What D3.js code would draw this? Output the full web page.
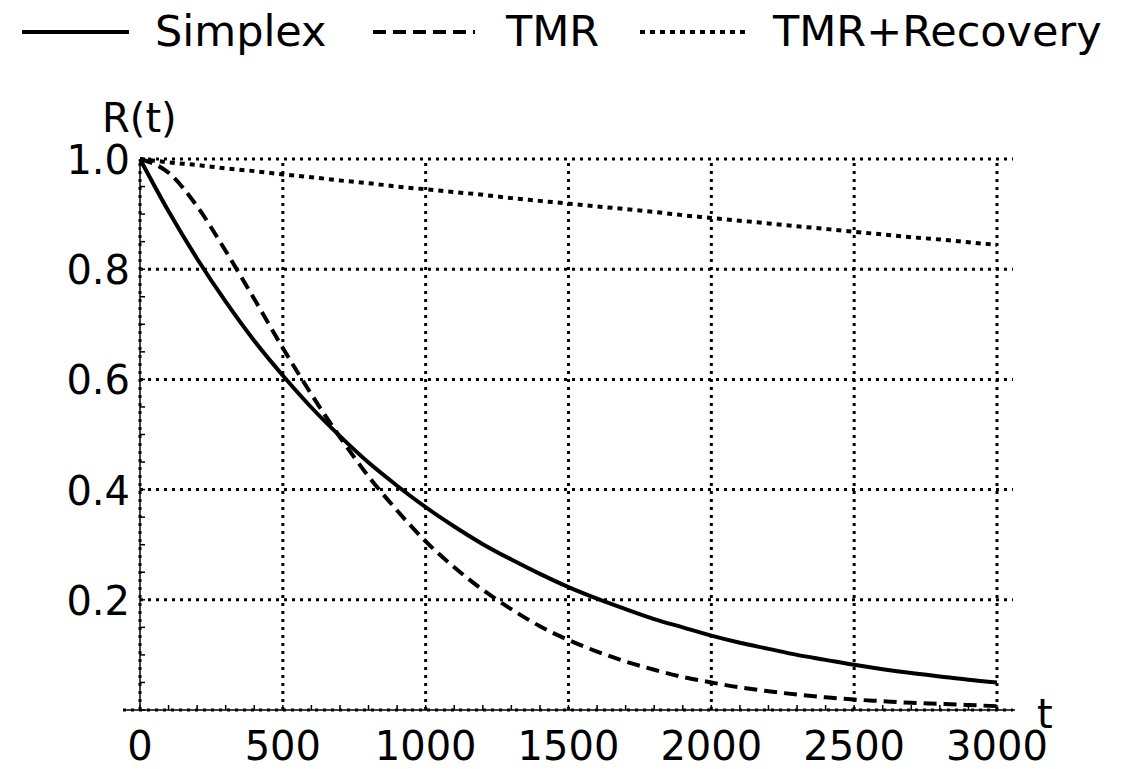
<!DOCTYPE html>
<html>
<head>
<meta charset="utf-8">
<script src="https://cdn.jsdelivr.net/npm/d3@7"></script>
<style>
  body { margin: 0; background: #fff; }
  text { font-family: "DejaVu Sans", Verdana, sans-serif; fill: #000; }
</style>
</head>
<body>
<div id="chart"></div>
<script>
const times = [0, 100, 200, 300, 400, 500, 600, 700, 800, 900, 1000, 1100, 1200, 1300, 1400, 1500,
    1600, 1700, 1800, 1900, 2000, 2100, 2200, 2300, 2400, 2500, 2600, 2700, 2800, 2900, 3000];
const simplex = [1.000, .905, .819, .741, .670, .607, .549, .497, .449, .407, .368, .333, .301, .273, .247, .223,
    .202, .183, .165, .150, .135, .122, .111, .100, .091, .082, .074, .067, .061, .055, .050];
const tmr = [1.000, .975, .914, .833, .746, .657, .573, .495, .424, .362, .306, .259, .218, .183, .152, .127,
    .106, .088, .073, .060, .050, .041, .034, .028, .023, .019, .016, .013, .011, .009, .007];
const recovery = [1.000, .994, .989, .983, .978, .972, .967, .961, .956, .950, .945, .940, .935, .929, .924, .919,
    .914, .909, .904, .898, .893, .888, .883, .878, .873, .868, .863, .858, .854, .849, .844];
const xTicks = [0, 500, 1000, 1500, 2000, 2500, 3000];
const yTicks = [0.2, 0.4, 0.6, 0.8, 1.0];
const seriesNames = ['Simplex', 'TMR', 'TMR+Recovery'];

const width = 1122, height = 769;
const x = d3.scaleLinear().domain([0, 3000]).range([140, 997]);
const y = d3.scaleLinear().domain([0, 1]).range([710, 159]);

const svg = d3.select("#chart").append("svg")
    .attr("width", width)
    .attr("height", height);

const dash = ['none', '13,7', '5,5'];
const gridDash = '3,5';

// axis base lines
svg.append("line").attr("x1", 123).attr("x2", 1015).attr("y1", y(0)).attr("y2", y(0))
    .attr("stroke", "#000").attr("stroke-width", 1.5);
svg.append("line").attr("x1", x(0)).attr("x2", x(0)).attr("y1", y(0)).attr("y2", y(1))
    .attr("stroke", "#000").attr("stroke-width", 1.5);

// minor ticks
svg.append("g").selectAll("line").data(d3.range(0, 3001, 100)).enter().append("line")
    .attr("x1", d => x(d)).attr("x2", d => x(d))
    .attr("y1", y(0)).attr("y2", y(0) - 5)
    .attr("stroke", "#000").attr("stroke-width", 1.5);
svg.append("g").selectAll("line").data(d3.range(0, 21).map(i => i * 0.05)).enter().append("line")
    .attr("x1", x(0)).attr("x2", x(0) + 5)
    .attr("y1", d => y(d)).attr("y2", d => y(d))
    .attr("stroke", "#000").attr("stroke-width", 1.5);

// dotted grid
svg.append("g").selectAll("line").data(xTicks).enter().append("line")
    .attr("x1", d => x(d)).attr("x2", d => x(d))
    .attr("y1", y(0)).attr("y2", y(1) - 1)
    .attr("stroke", "#000").attr("stroke-width", 3).attr("stroke-dasharray", gridDash);
svg.append("g").selectAll("line").data([0].concat(yTicks)).enter().append("line")
    .attr("x1", d => d === 0 ? 123 : x(0)).attr("x2", 1013)
    .attr("y1", d => y(d)).attr("y2", d => y(d))
    .attr("stroke", "#000").attr("stroke-width", 3).attr("stroke-dasharray", gridDash);

// tick labels
svg.append("g").selectAll("text").data(xTicks).enter().append("text")
    .attr("x", d => x(d)).attr("y", 760)
    .attr("text-anchor", "middle")
    .attr("font-size", 40)
    .text(d => d);
svg.append("g").selectAll("text").data(yTicks).enter().append("text")
    .attr("x", 130).attr("y", d => y(d) + 15)
    .attr("text-anchor", "end")
    .attr("font-size", 40)
    .text(d => d3.format(".1f")(d));
svg.append("text").attr("x", 102).attr("y", 132).attr("font-size", 40).text("R(t)");
svg.append("text").attr("x", 1037).attr("y", 728).attr("font-size", 40).text("t");

// curves
const line = d3.line().x((d, i) => x(times[i])).y(d => y(d)).curve(d3.curveMonotoneX);
[simplex, tmr, recovery].forEach((s, k) => {
    svg.append("path").datum(s)
        .attr("d", line)
        .attr("fill", "none")
        .attr("stroke", "#000")
        .attr("stroke-width", 4)
        .attr("stroke-dasharray", dash[k]);
});

// legend
const legendLines = [[22, 129], [373, 475], [640, 745]];
const legendText = [155, 506, 773];
seriesNames.forEach((name, k) => {
    svg.append("line")
        .attr("x1", legendLines[k][0]).attr("x2", legendLines[k][1])
        .attr("y1", 32).attr("y2", 32)
        .attr("stroke", "#000")
        .attr("stroke-width", 4)
        .attr("stroke-dasharray", dash[k]);
    svg.append("text").attr("x", legendText[k]).attr("y", 46)
        .attr("font-size", 43)
        .text(name);
});
</script>
</body>
</html>
